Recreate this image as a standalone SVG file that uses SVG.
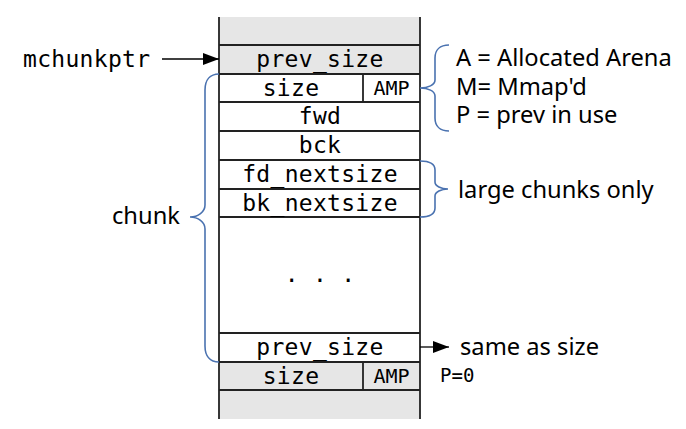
<svg xmlns="http://www.w3.org/2000/svg" width="686" height="429" viewBox="0 0 686 429">
<style>
.mono{font-family:"DejaVu Sans Mono",monospace;font-size:23px;letter-spacing:0.3px;fill:#000}
.amp{font-family:"DejaVu Sans Mono",monospace;font-size:20px;fill:#000}
.p0{font-family:"DejaVu Sans Mono",monospace;font-size:19px;fill:#000}
.sans{font-family:"Noto Sans",sans-serif;font-size:23.7px;fill:#000}
.ln{stroke:#222;stroke-width:1.8;fill:none}
.brace{stroke:#4a72b0;stroke-width:1.6;fill:none}
.arr{stroke:#000;stroke-width:1.3;fill:none}
</style>
<defs>
<marker id="ah" markerWidth="16" markerHeight="12" refX="16" refY="6" orient="auto" markerUnits="userSpaceOnUse">
<path d="M0,0 L16,6 L0,12 Z" fill="#000"/>
</marker>
</defs>
<rect width="686" height="429" fill="#fff"/>
<g id="column">
<rect x="219" y="17" width="201" height="57" fill="#e6e6e6"/>
<rect x="219" y="362" width="201" height="57" fill="#e6e6e6"/>
<line class="ln" x1="219" y1="17" x2="219" y2="419"/>
<line class="ln" x1="420" y1="17" x2="420" y2="419"/>
<line class="ln" x1="219" y1="45" x2="420" y2="45"/>
<line class="ln" x1="219" y1="74" x2="420" y2="74"/>
<line class="ln" x1="219" y1="102" x2="420" y2="102"/>
<line class="ln" x1="219" y1="131" x2="420" y2="131"/>
<line class="ln" x1="219" y1="160" x2="420" y2="160"/>
<line class="ln" x1="219" y1="189" x2="420" y2="189"/>
<line class="ln" x1="219" y1="217" x2="420" y2="217"/>
<line class="ln" x1="219" y1="333" x2="420" y2="333"/>
<line class="ln" x1="219" y1="362" x2="420" y2="362"/>
<line class="ln" x1="219" y1="390" x2="420" y2="390"/>
<line class="ln" x1="363" y1="74" x2="363" y2="102"/>
<line class="ln" x1="363" y1="362" x2="363" y2="390"/>
</g>
<g id="fields" text-anchor="middle">
<text class="mono" x="320" y="67">prev_size</text>
<text class="mono" x="291" y="96">size</text>
<text class="amp" x="391.5" y="95">AMP</text>
<text class="mono" x="320" y="124">fwd</text>
<text class="mono" x="320" y="153">bck</text>
<text class="mono" x="320" y="182">fd_nextsize</text>
<text class="mono" x="320" y="211">bk_nextsize</text>
<text class="mono" x="320" y="282">. . .</text>
<text class="mono" x="320" y="355">prev_size</text>
<text class="mono" x="291" y="384">size</text>
<text class="amp" x="391.5" y="383">AMP</text>
</g>
<g id="labels">
<text class="mono" x="23" y="67">mchunkptr</text>
<text class="sans" x="112" y="224">chunk</text>
<text class="sans" x="456" y="66">A = Allocated Arena</text>
<text class="sans" x="456" y="95">M= Mmap'd</text>
<text class="sans" x="456" y="123">P = prev in use</text>
<text class="sans" x="458" y="198">large chunks only</text>
<text class="sans" x="460" y="355">same as size</text>
<text class="p0" x="440" y="382">P=0</text>
</g>
<g id="connectors">
<line class="arr" x1="162" y1="59" x2="219" y2="59" marker-end="url(#ah)"/>
<line class="arr" x1="420" y1="347" x2="449" y2="347" marker-end="url(#ah)"/>
<path class="brace" d="M219,74 C210,74 205,80 205,90 L205,205 C205,212 198,217 190,217 C198,217 205,222 205,229 L205,346 C205,356 210,362 219,362"/>
<path class="brace" d="M449,45 C440,45 435,50 435,58 L435,80 C435,85 428,88 420,88 C428,88 435,91 435,96 L435,118 C435,126 440,131 449,131"/>
<path class="brace" d="M420,161 C429,161 435,164 435,170 L435,182 C435,186 441,189 448,189 C441,189 435,192 435,196 L435,208 C435,214 429,217 420,217"/>
</g>
</svg>
